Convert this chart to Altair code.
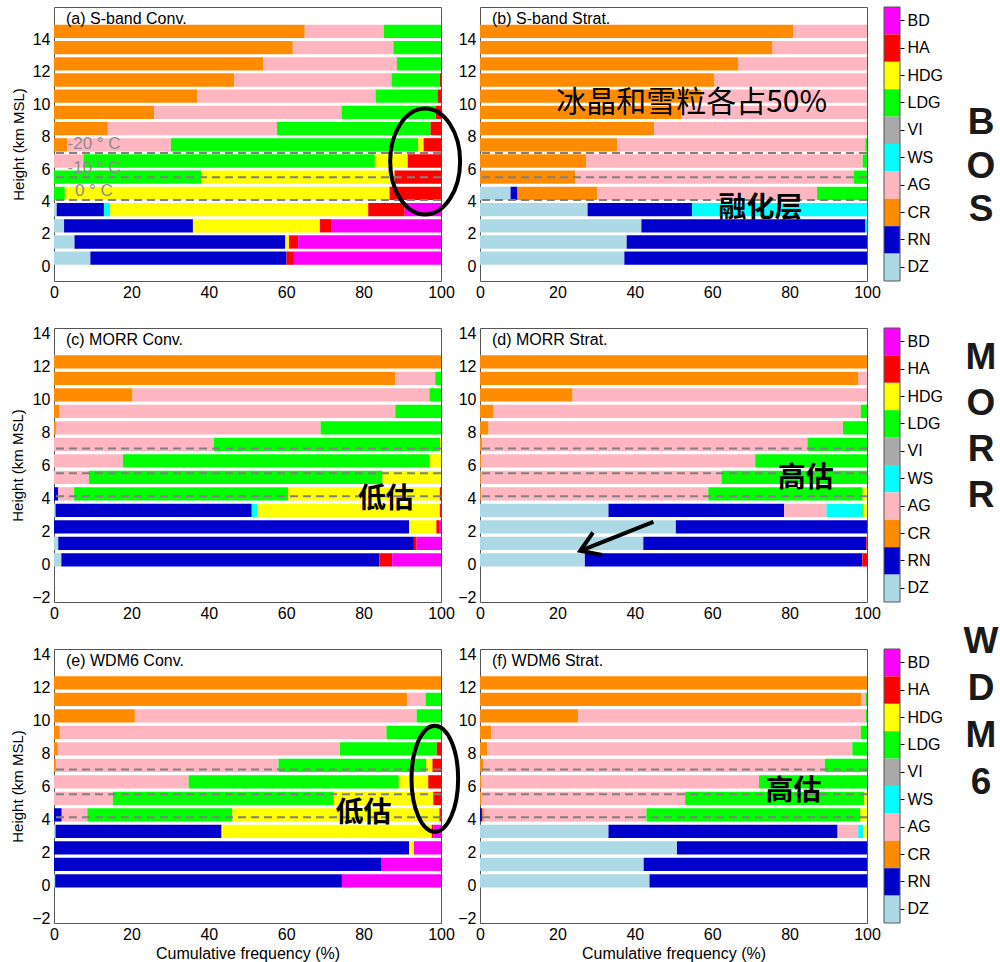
import math
import altair as alt
import pandas as pd

FONT = "Liberation Sans"
CJK = "Noto Sans CJK SC"

# hydrometeor classes in stacking order (left -> right)
CATS = ["DZ", "RN", "CR", "AG", "WS", "VI", "LDG", "HDG", "HA", "BD"]
COLORS = ["#ADD8E6", "#0000CD", "#FF8C00", "#FFB6C1", "#00FFFF",
          "#A9A9A9", "#00FF00", "#FFFF00", "#FF0000", "#FF00FF"]
CB_ORDER = ["BD", "HA", "HDG", "LDG", "VI", "WS", "AG", "CR", "RN", "DZ"]

HEIGHTS_OBS = [0.5, 1.5, 2.5, 3.5, 4.5, 5.5, 6.5, 7.5, 8.5, 9.5, 10.5, 11.5, 12.5, 13.5, 14.5]
HEIGHTS_MOD = [0.25, 1.25, 2.25, 3.25, 4.25, 5.25, 6.25, 7.25, 8.25, 9.25, 10.25, 11.25, 12.25]

X_TICKS = [0, 20, 40, 60, 80, 100]
Y_TICKS_OBS = [0, 2, 4, 6, 8, 10, 12, 14]
Y_TICKS_MOD = [-2, 0, 2, 4, 6, 8, 10, 12, 14]
Y_DOM_OBS = [-0.6, 15.7]
Y_DOM_MOD = [-2, 14]

LEVELS = [7.0, 5.5, 4.1]          # -20, -10, 0 degC heights (km)

# rows bottom -> top, columns: DZ RN CR AG WS VI LDG HDG HA BD (percent)
SBAND_CONV = [
    [9.4, 50.7, 0, 0, 0, 0, 0, 0, 1.9, 38.0],
    [5.3, 54.5, 0, 0, 0, 0, 0, 0.9, 2.4, 36.9],
    [2.6, 33.3, 0, 0, 0, 0, 0, 32.8, 2.9, 28.4],
    [0.7, 12.2, 0, 0, 1.6, 0, 0, 66.7, 9.4, 9.4],
    [0, 0, 0, 0, 0, 0, 2.8, 83.9, 13.3, 0],
    [0, 0, 0, 0, 0, 0, 38.0, 50.0, 12.0, 0],
    [0, 0, 0, 7.6, 0, 0, 75.3, 8.5, 8.6, 0],
    [0, 0, 3.4, 26.8, 0, 0, 63.9, 1.4, 4.5, 0],
    [0, 0, 13.9, 43.7, 0, 0, 39.7, 0, 2.7, 0],
    [0, 0, 25.9, 48.4, 0, 0, 24.4, 0, 1.3, 0],
    [0, 0, 37.1, 46.0, 0, 0, 16.0, 0, 0.9, 0],
    [0, 0, 46.6, 40.6, 0, 0, 12.5, 0, 0.3, 0],
    [0, 0, 54.0, 34.6, 0, 0, 11.4, 0, 0, 0],
    [0, 0, 61.7, 26.0, 0, 0, 12.3, 0, 0, 0],
    [0, 0, 64.8, 20.4, 0, 0, 14.8, 0, 0, 0],
]
SBAND_STRAT = [
    [37.3, 62.7, 0, 0, 0, 0, 0, 0, 0, 0],
    [37.9, 62.1, 0, 0, 0, 0, 0, 0, 0, 0],
    [41.7, 57.9, 0, 0, 0.4, 0, 0, 0, 0, 0],
    [27.8, 27.0, 0, 0, 45.2, 0, 0, 0, 0, 0],
    [7.9, 1.8, 20.6, 56.8, 0, 0, 12.9, 0, 0, 0],
    [0, 0, 24.6, 72.0, 0, 0, 3.4, 0, 0, 0],
    [0, 0, 27.5, 71.4, 0, 0, 1.1, 0, 0, 0],
    [0, 0, 35.5, 64.1, 0, 0, 0.4, 0, 0, 0],
    [0, 0, 45.0, 55.0, 0, 0, 0, 0, 0, 0],
    [0, 0, 52.1, 47.9, 0, 0, 0, 0, 0, 0],
    [0, 0, 57.1, 42.9, 0, 0, 0, 0, 0, 0],
    [0, 0, 60.6, 39.4, 0, 0, 0, 0, 0, 0],
    [0, 0, 66.8, 33.2, 0, 0, 0, 0, 0, 0],
    [0, 0, 75.6, 24.4, 0, 0, 0, 0, 0, 0],
    [0, 0, 81.0, 19.0, 0, 0, 0, 0, 0, 0],
]
MORR_CONV = [
    [1.9, 82.2, 0, 0, 0, 0, 0, 0, 3.3, 12.6],
    [1.1, 91.9, 0, 0, 0, 0, 0, 0, 0.7, 6.3],
    [0, 91.8, 0, 0, 0, 0, 0, 7.0, 0.7, 0.5],
    [0.4, 50.7, 0, 0, 1.4, 0, 0, 47.2, 0.3, 0],
    [0, 1.1, 0, 4.1, 0, 0, 55.3, 39.2, 0.3, 0],
    [0, 0, 0, 9.0, 0, 0, 75.9, 15.1, 0, 0],
    [0, 0, 0, 17.8, 0, 0, 79.2, 3.0, 0, 0],
    [0, 0, 0, 41.3, 0, 0, 58.5, 0.2, 0, 0],
    [0, 0, 0.5, 68.4, 0, 0, 31.1, 0, 0, 0],
    [0, 0, 1.3, 86.9, 0, 0, 11.8, 0, 0, 0],
    [0, 0, 20.3, 76.7, 0, 0, 3.0, 0, 0, 0],
    [0, 0, 88.2, 10.3, 0, 0, 1.5, 0, 0, 0],
    [0, 0, 100.0, 0, 0, 0, 0, 0, 0, 0],
]
MORR_STRAT = [
    [27.1, 71.7, 0, 0, 0, 0, 0, 0, 1.2, 0],
    [42.2, 57.6, 0, 0, 0, 0, 0, 0, 0.2, 0],
    [50.6, 49.4, 0, 0, 0, 0, 0, 0, 0, 0],
    [33.2, 45.4, 0, 10.9, 9.3, 0, 0.3, 0.9, 0, 0],
    [0, 0, 0.2, 58.8, 0, 0, 39.9, 1.1, 0, 0],
    [0, 0, 0.2, 62.2, 0, 0, 37.6, 0, 0, 0],
    [0, 0, 0.3, 70.8, 0, 0, 28.9, 0, 0, 0],
    [0, 0, 0.6, 84.0, 0, 0, 15.4, 0, 0, 0],
    [0, 0, 2.2, 91.6, 0, 0, 6.2, 0, 0, 0],
    [0, 0, 3.5, 94.9, 0, 0, 1.6, 0, 0, 0],
    [0, 0, 23.9, 76.1, 0, 0, 0, 0, 0, 0],
    [0, 0, 97.8, 2.2, 0, 0, 0, 0, 0, 0],
    [0, 0, 100.0, 0, 0, 0, 0, 0, 0, 0],
]
WDM6_CONV = [
    [0.3, 74.1, 0, 0, 0, 0, 0, 0, 0, 25.6],
    [0, 84.5, 0, 0, 0, 0, 0, 0, 0, 15.5],
    [0, 91.8, 0, 0, 0, 0, 0, 1.2, 0, 7.0],
    [0.4, 42.9, 0, 0, 0, 0, 0, 54.3, 0.4, 2.0],
    [0, 2.0, 0, 6.6, 0, 0, 37.5, 53.5, 0.4, 0],
    [0, 0, 0, 15.2, 0, 0, 57.0, 25.8, 2.0, 0],
    [0, 0, 0, 34.8, 0, 0, 54.3, 7.6, 3.3, 0],
    [0, 0, 0.5, 57.5, 0, 0, 38.2, 1.6, 2.2, 0],
    [0, 0, 1.0, 72.9, 0, 0, 25.0, 0, 1.1, 0],
    [0, 0, 1.5, 84.4, 0, 0, 14.1, 0, 0, 0],
    [0, 0, 20.9, 72.8, 0, 0, 6.3, 0, 0, 0],
    [0, 0, 91.3, 4.7, 0, 0, 4.0, 0, 0, 0],
    [0, 0, 100.0, 0, 0, 0, 0, 0, 0, 0],
]
WDM6_STRAT = [
    [43.8, 56.2, 0, 0, 0, 0, 0, 0, 0, 0],
    [42.3, 57.7, 0, 0, 0, 0, 0, 0, 0, 0],
    [50.9, 49.1, 0, 0, 0, 0, 0, 0, 0, 0],
    [33.2, 59.2, 0, 5.3, 1.4, 0, 0, 0.9, 0, 0],
    [0, 0.5, 0.5, 42.0, 0, 0, 55.3, 1.7, 0, 0],
    [0, 0, 0.4, 52.6, 0, 0, 46.3, 0.7, 0, 0],
    [0, 0, 0.4, 71.7, 0, 0, 27.9, 0, 0, 0],
    [0, 0, 0.9, 88.2, 0, 0, 10.9, 0, 0, 0],
    [0, 0, 1.9, 94.3, 0, 0, 3.8, 0, 0, 0],
    [0, 0, 2.9, 95.5, 0, 0, 1.6, 0, 0, 0],
    [0, 0, 25.4, 74.3, 0, 0, 0.3, 0, 0, 0],
    [0, 0, 98.6, 1.0, 0, 0, 0.4, 0, 0, 0],
    [0, 0, 100.0, 0, 0, 0, 0, 0, 0, 0],
]

PANEL_LABELS = ["(a) S-band Conv.", "(b) S-band Strat.", "(c) MORR Conv.",
                "(d) MORR Strat.", "(e) WDM6 Conv.", "(f) WDM6 Strat."]

TEMP_TEXT = ["-20 ° C", "-10 ° C", "0 ° C"]
TEMP_X = [3.5, 3.5, 5.4]
TEMP_Y = [7.54, 6.09, 4.63]

# annotation texts (x in %, y in km)
NOTE_B1 = ("冰晶和雪粒各占50%", 54.7, 10.08)
NOTE_B2 = ("融化层", 72.5, 3.53)
NOTE_C = ("低估", 85.8, 3.89)
NOTE_D = ("高估", 84.2, 5.17)
NOTE_E = ("低估", 80.0, 4.28)
NOTE_F = ("高估", 81.0, 5.65)

ELLIPSE_A = (95.9, 6.47, 0.66)   # centre x %, centre y km, rx/ry
ELLIPSE_E = (98.4, 6.44, 0.44)
ARROW_D = (44.8, 2.55, 25.9, 0.8)  # from (x, y) to (x, y)

ROW_NAMES = ["BOS", "MORR", "WDM6"]

PW, PH = 387, 274
GAP_COL, GAP_ROW = 39, 47


def stack_rows(rows, heights):
    recs = []
    for h, row in zip(heights, rows):
        acc = 0.0
        for cat, v in zip(CATS, row):
            if v > 0:
                recs.append({"h": h, "cat": cat, "x0": acc, "x1": acc + v})
                acc += v
    return pd.DataFrame(recs)


def ellipse_path(a):
    k = 0.5523
    ka = k * a
    return (f"M 0 -1 C {ka:.4f} -1 {a:.4f} -{k} {a:.4f} 0 "
            f"C {a:.4f} {k} {ka:.4f} 1 0 1 "
            f"C -{ka:.4f} 1 -{a:.4f} {k} -{a:.4f} 0 "
            f"C -{a:.4f} -{k} -{ka:.4f} -1 0 -1 Z")


def panel(rows, heights, ydom, yticks, label, left, bottom, extras):
    xs = alt.Scale(domain=[0, 100], nice=False, zero=False)
    ys = alt.Scale(domain=ydom, nice=False, zero=False)
    xaxis = alt.Axis(values=X_TICKS, ticks=False, domain=False, grid=False,
                     labelPadding=3, labelFlush=False, labelOverlap=False, titlePadding=3,
                     titleFontSize=16, titleFont=FONT, titleFontWeight="normal")
    yaxis = alt.Axis(values=yticks, ticks=False, domain=False, grid=False,
                     labelPadding=4, labelFlush=False, labelOverlap=False, titlePadding=6,
                     titleFontSize=15, titleFont=FONT, titleFontWeight="normal")
    xt = "Cumulative frequency (%)" if bottom else None
    yt = "Height (km MSL)" if left else None

    def X(f):
        return alt.X(f, scale=xs, axis=xaxis, title=xt)

    def Y(f):
        return alt.Y(f, scale=ys, axis=yaxis, title=yt)

    def texts(items, **kw):
        df = pd.DataFrame({"t": [i[0] for i in items], "x": [i[1] for i in items],
                           "y": [i[2] for i in items]})
        return alt.Chart(df).mark_text(**kw).encode(x=X("x:Q"), y=Y("y:Q"), text="t:N")

    df = stack_rows(rows, heights)
    bars = alt.Chart(df).mark_bar(size=13.3, orient="horizontal").encode(
        x=X("x0:Q"), x2="x1:Q", y=Y("h:Q"),
        color=alt.Color("cat:N", scale=alt.Scale(domain=CATS, range=COLORS), legend=None),
    )
    rules = alt.Chart(pd.DataFrame({"lvl": LEVELS})).mark_rule(
        strokeDash=[8, 5], color="#808080", strokeWidth=2
    ).encode(y=Y("lvl:Q"))
    lab = alt.Chart(pd.DataFrame({"t": [label]})).mark_text(
        align="left", baseline="middle", font=FONT, fontSize=16, color="black"
    ).encode(x=alt.value(12), y=alt.value(12), text="t:N")
    layers = [bars, rules, lab] + extras(X, Y, texts)
    return alt.layer(*layers).properties(width=PW, height=PH)


def ellipse_layer(spec, X, Y):
    cx, cy, r = spec
    return alt.Chart(pd.DataFrame({"x": [cx], "y": [cy]})).mark_point(
        shape=ellipse_path(r), size=106 * 106, filled=False, stroke="black",
        strokeWidth=4, opacity=1
    ).encode(x=X("x:Q"), y=Y("y:Q"))


def bold(note):
    return dict(align="center", baseline="middle", font=CJK, fontSize=28,
                fontWeight="bold", color="black")


def ex_a(X, Y, texts):
    temps = texts(list(zip(TEMP_TEXT, TEMP_X, TEMP_Y)), align="left", baseline="middle",
                  font=FONT, fontSize=17, color="#8c8c8c")
    return [temps, ellipse_layer(ELLIPSE_A, X, Y)]


def ex_b(X, Y, texts):
    t1 = texts([NOTE_B1], align="center", baseline="middle", font=CJK, fontSize=30,
               color="black")
    t2 = texts([NOTE_B2], **bold(NOTE_B2))
    return [t1, t2]


def note_only(note):
    def f(X, Y, texts):
        return [texts([note], **bold(note))]
    return f


def ex_d(X, Y, texts):
    x0, y0, x1, y1 = ARROW_D
    dx = (x1 - x0) * PW / 100.0
    dy = -(y1 - y0) * PH / (Y_DOM_MOD[1] - Y_DOM_MOD[0])
    ang = math.degrees(math.atan2(dx, -dy)) % 360
    line = alt.Chart(pd.DataFrame({"x": [x0], "y": [y0], "x2": [x1], "y2": [y1]})).mark_rule(
        color="black", strokeWidth=4
    ).encode(x=X("x:Q"), y=Y("y:Q"), x2="x2:Q", y2="y2:Q")
    head = alt.Chart(pd.DataFrame({"x": [x1], "y": [y1]})).mark_point(
        shape="M -0.55 0.85 L 0 0 L 0.55 0.85", size=44 * 44, filled=False,
        stroke="black", strokeWidth=4, opacity=1, angle=round(ang, 1)
    ).encode(x=X("x:Q"), y=Y("y:Q"))
    return [line, head, texts([NOTE_D], **bold(NOTE_D))]


def ex_e(X, Y, texts):
    return [texts([NOTE_E], **bold(NOTE_E)), ellipse_layer(ELLIPSE_E, X, Y)]


def colorbar(word, baseline_y, step):
    # the colour bar sits 22 px left of this (1 px wide) cell's origin
    df = pd.DataFrame({"cat": CB_ORDER})
    cells = alt.Chart(df).mark_rect().encode(
        y=alt.Y("cat:N", scale=alt.Scale(domain=CB_ORDER, paddingInner=0, paddingOuter=0),
                axis=alt.Axis(orient="right", offset=-7, ticks=True, tickSize=4,
                              tickColor="black", domain=False, labelPadding=3,
                              labelFontSize=16),
                title=None),
        x=alt.value(-22), x2=alt.value(-6),
        color=alt.Color("cat:N", scale=alt.Scale(domain=CATS, range=COLORS), legend=None),
    )
    frame = alt.Chart(pd.DataFrame({"k": [0]})).mark_rect(
        fillOpacity=0, stroke="#555555", strokeWidth=1
    ).encode(x=alt.value(-22), x2=alt.value(-6), y=alt.value(0), y2=alt.value(PH))
    lett = alt.Chart(pd.DataFrame({"t": ["\n".join(word)]})).mark_text(
        font=FONT, fontSize=37, fontWeight="bold", align="center", baseline="alphabetic",
        lineBreak="\n", lineHeight=step, color="#1a1a1a"
    ).encode(x=alt.value(75), y=alt.value(baseline_y), text="t:N")
    return alt.layer(cells, frame, lett).properties(
        width=1, height=PH, view=alt.ViewBackground(stroke="transparent"))


pa = panel(SBAND_CONV, HEIGHTS_OBS, Y_DOM_OBS, Y_TICKS_OBS, PANEL_LABELS[0], True, False, ex_a)
pb = panel(SBAND_STRAT, HEIGHTS_OBS, Y_DOM_OBS, Y_TICKS_OBS, PANEL_LABELS[1], False, False, ex_b)
pc = panel(MORR_CONV, HEIGHTS_MOD, Y_DOM_MOD, Y_TICKS_MOD, PANEL_LABELS[2], True, False, note_only(NOTE_C))
pd_ = panel(MORR_STRAT, HEIGHTS_MOD, Y_DOM_MOD, Y_TICKS_MOD, PANEL_LABELS[3], False, False, ex_d)
pe = panel(WDM6_CONV, HEIGHTS_MOD, Y_DOM_MOD, Y_TICKS_MOD, PANEL_LABELS[4], True, True, ex_e)
pf = panel(WDM6_STRAT, HEIGHTS_MOD, Y_DOM_MOD, Y_TICKS_MOD, PANEL_LABELS[5], False, True, note_only(NOTE_F))

cb1 = colorbar(ROW_NAMES[0], 127, 43.5)
cb2 = colorbar(ROW_NAMES[1], 41, 46)
cb3 = colorbar(ROW_NAMES[2], 4, 47)

chart = alt.concat(
    pa, pb, cb1, pc, pd_, cb2, pe, pf, cb3,
    columns=3, spacing={"row": GAP_ROW, "column": GAP_COL}, bounds="flush",
).properties(
    padding={"left": 10, "top": 6, "right": 0, "bottom": 0},
    background="white",
).configure_view(
    stroke="#555555", strokeWidth=1
).configure_axis(
    labelFont=FONT, titleFont=FONT, labelFontSize=16, titleFontSize=15,
    titleFontWeight="normal", labelColor="black", titleColor="black",
)

chart.save("out.html", embed_options={"renderer": "svg", "actions": False})
